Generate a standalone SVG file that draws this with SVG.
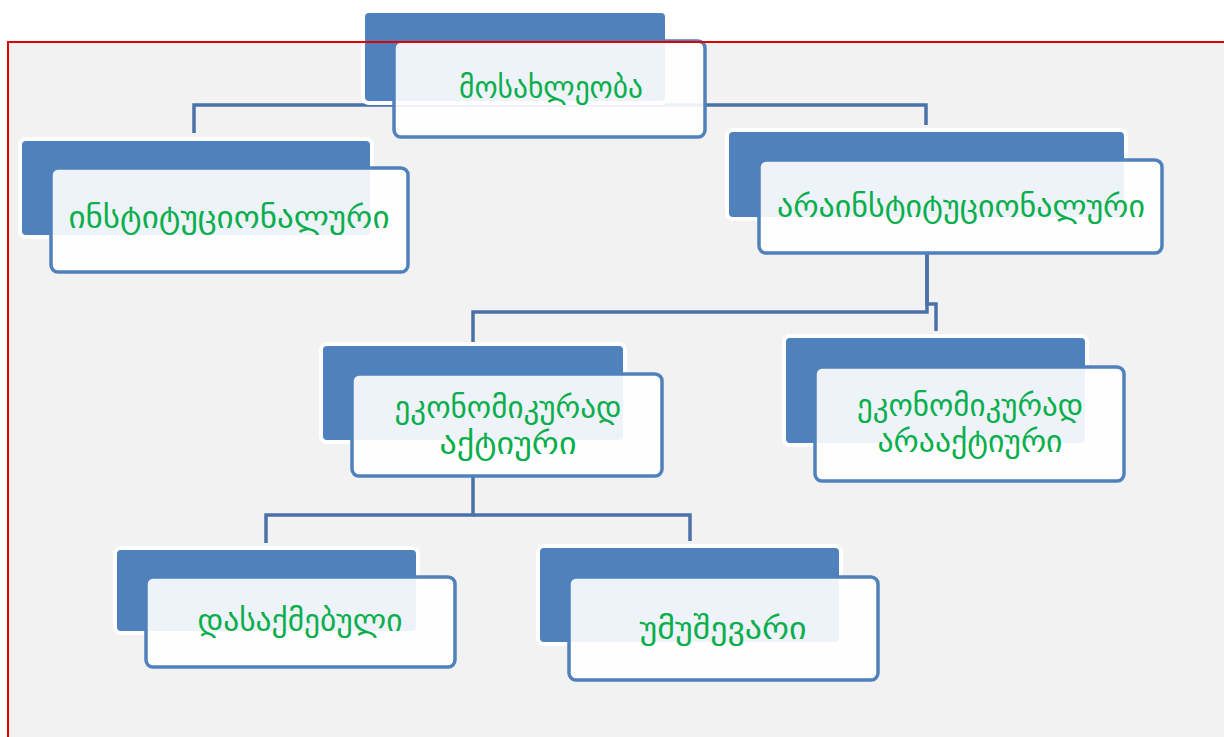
<svg xmlns="http://www.w3.org/2000/svg" width="1224" height="737" viewBox="0 0 1224 737">
<style>
.back{fill:#4f81bd;stroke:#ffffff;stroke-width:4}
.front{fill:#ffffff;fill-opacity:0.9;stroke:#4f81bd;stroke-width:3.5}
.lbl{font-family:"DejaVu Sans","Noto Sans",sans-serif;font-size:30px;fill:#0aae4c;text-anchor:middle}
.con{fill:none;stroke:#4a72a8;stroke-width:3.5}
</style>
<rect x="0" y="0" width="1224" height="737" fill="#ffffff"/>
<rect x="8" y="42" width="1224" height="700" fill="#f2f2f2"/>
<g id="connectors">
<path class="con" d="M194,133 V105 H926 V125"/>
<path class="con" d="M927,254 V312 H473 V343"/>
<path class="con" d="M927,254 V304 H936 V331"/>
<path class="con" d="M473,477 V515 H266 V543"/>
<path class="con" d="M473,515 H690 V541"/>
</g>
<g id="n-mosakhleoba">
<rect class="back" x="363" y="11" width="304" height="92" rx="6"/>
<rect class="front" x="394" y="41" width="311" height="96" rx="7"/>
<text class="lbl" x="551" y="98" textLength="184" lengthAdjust="spacingAndGlyphs">მოსახლეობა</text>
</g>
<g id="n-institutsionaluri">
<rect class="back" x="20" y="139" width="352" height="98" rx="6"/>
<rect class="front" x="51" y="168" width="357" height="104" rx="7"/>
<text class="lbl" x="229" y="228" textLength="321" lengthAdjust="spacingAndGlyphs">ინსტიტუციონალური</text>
</g>
<g id="n-arainstitutsionaluri">
<rect class="back" x="727" y="130" width="399" height="89" rx="6"/>
<rect class="front" x="759" y="160" width="403" height="93" rx="7"/>
<text class="lbl" x="961" y="217" textLength="368" lengthAdjust="spacingAndGlyphs">არაინსტიტუციონალური</text>
</g>
<g id="n-ek-aktiuri">
<rect class="back" x="321" y="344" width="304" height="98" rx="6"/>
<rect class="front" x="352" y="374" width="310" height="102" rx="7"/>
<text class="lbl" x="508" y="418" textLength="227" lengthAdjust="spacingAndGlyphs">ეკონომიკურად</text>
<text class="lbl" x="508" y="454" textLength="137" lengthAdjust="spacingAndGlyphs">აქტიური</text>
</g>
<g id="n-ek-araaktiuri">
<rect class="back" x="784" y="336" width="303" height="109" rx="6"/>
<rect class="front" x="815" y="367" width="309" height="114" rx="7"/>
<text class="lbl" x="970" y="416" textLength="226" lengthAdjust="spacingAndGlyphs">ეკონომიკურად</text>
<text class="lbl" x="970" y="452" textLength="185" lengthAdjust="spacingAndGlyphs">არააქტიური</text>
</g>
<g id="n-dasakmebuli">
<rect class="back" x="115" y="548" width="303" height="85" rx="6"/>
<rect class="front" x="146" y="577" width="309" height="90" rx="7"/>
<text class="lbl" x="300" y="631" textLength="205" lengthAdjust="spacingAndGlyphs">დასაქმებული</text>
</g>
<g id="n-umushevari">
<rect class="back" x="538" y="546" width="303" height="98" rx="6"/>
<rect class="front" x="569" y="577" width="309" height="103" rx="7"/>
<text class="lbl" x="723" y="639" textLength="167" lengthAdjust="spacingAndGlyphs">უმუშევარი</text>
</g>
<rect x="8" y="42" width="1224" height="700" fill="none" stroke="#e00000" stroke-width="2"/>
</svg>
